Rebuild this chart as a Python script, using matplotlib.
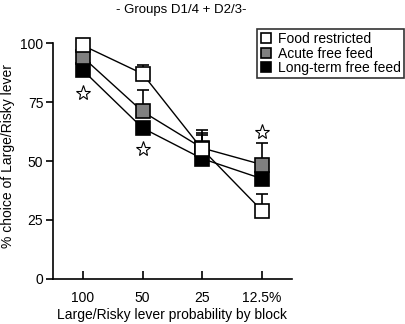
import numpy as np
import matplotlib.pyplot as plt

plt.rcParams['font.family'] = ['Liberation Sans', 'DejaVu Sans']

blocks = ['100', '50', '25', '12.5%']
food_restricted = [99, 87, 55, 29]
food_err = [0, 3.5, 8, 7]
acute = [94, 71, 55.5, 48.5]
acute_err = [0, 9, 6.5, 9]
longterm = [88.5, 64, 51, 42.5]
longterm_err = [0, 0, 10, 0]
star_x = [0, 1, 3]
star_y = [79, 55, 62.5]

fig = plt.figure(figsize=(4.06, 3.24), dpi=100)
ax = fig.add_axes([0.1305, 0.139, 0.588, 0.728])
x = np.arange(len(blocks))

series = [(longterm, longterm_err, 'black', 'Long-term free feed', 3),
          (acute, acute_err, '#808080', 'Acute free feed', 4),
          (food_restricted, food_err, 'white', 'Food restricted', 5)]
handles = {}
for y, e, c, lab, z in series:
    ax.errorbar(x, y, yerr=[np.zeros(len(e)), e], fmt='none', ecolor='black',
                elinewidth=1.2, capsize=4, capthick=1.2, zorder=z - 1)
    ax.plot(x, y, '-', color='black', lw=1, zorder=1)
    h, = ax.plot(x, y, 's', ms=10.5, mfc=c, mec='black', mew=1.2, ls='none',
                 zorder=z, clip_on=False, label=lab)
    handles[lab] = h

ax.plot(star_x, star_y, '*', ms=11, mfc='white', mec='black', mew=0.8,
        ls='none', zorder=6)

ax.set_xlim(-0.5, 3.5)
ax.set_ylim(0, 100)
ax.set_xticks(x)
ax.set_xticklabels(blocks, fontsize=10)
ax.set_yticks([0, 25, 50, 75, 100])
ax.tick_params(axis='y', direction='out', length=5, width=1.2, labelsize=10, pad=2)
ax.tick_params(axis='x', direction='in', length=6, width=1.2, pad=9)
for s in ['top', 'right']:
    ax.spines[s].set_visible(False)
for s in ['left', 'bottom']:
    ax.spines[s].set_linewidth(1.2)

ax.set_xlabel('Large/Risky lever probability by block', fontsize=10, labelpad=2)
ax.set_ylabel('% choice of Large/Risky lever', fontsize=10)
ax.yaxis.set_label_coords(-0.16, 0.52)
fig.text(0.447, 0.968, '- Groups D1/4 + D2/3-', ha='center', va='center', fontsize=9.5)

leg = fig.legend([handles['Food restricted'], handles['Acute free feed'],
                  handles['Long-term free feed']],
                 ['Food restricted', 'Acute free feed', 'Long-term free feed'],
                 loc='upper right', bbox_to_anchor=(0.995, 0.91), fontsize=10,
                 frameon=True, fancybox=False, edgecolor='black',
                 handlelength=0.8, handletextpad=0.5, borderpad=0.2,
                 labelspacing=0.05, markerscale=0.75, borderaxespad=0)
leg.get_frame().set_linewidth(1.2)

fig.savefig('out.png', dpi=100)
